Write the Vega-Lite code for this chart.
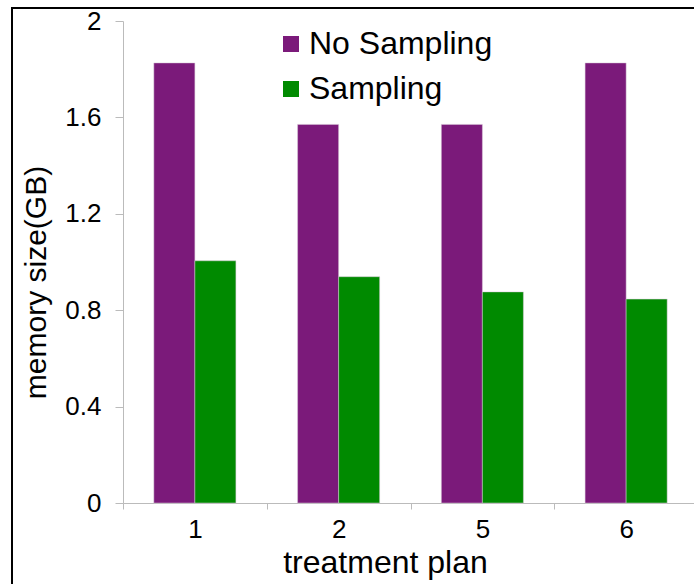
{
  "$schema": "https://vega.github.io/schema/vega-lite/v6.json",
  "autosize": {"type": "none"},
  "padding": {"left": 12, "top": 8, "right": 0, "bottom": 0},
  "width": 700,
  "height": 600,
  "background": "white",
  "config": {
    "font": "Liberation Sans",
    "view": {"stroke": "black", "strokeWidth": 2},
    "axis": {"grid": false, "domainColor": "#bbbbbb", "tickColor": "#bbbbbb", "labelColor": "black", "titleColor": "black", "labelFont": "Liberation Sans", "titleFont": "Liberation Sans", "titleFontWeight": "normal", "labelFontSize": 26}
  },
  "data": {"values": [
    {"plan": "1", "mode": "No Sampling", "size": 1.826},
    {"plan": "1", "mode": "Sampling", "size": 1.005},
    {"plan": "2", "mode": "No Sampling", "size": 1.571},
    {"plan": "2", "mode": "Sampling", "size": 0.939},
    {"plan": "5", "mode": "No Sampling", "size": 1.571},
    {"plan": "5", "mode": "Sampling", "size": 0.876},
    {"plan": "6", "mode": "No Sampling", "size": 1.826},
    {"plan": "6", "mode": "Sampling", "size": 0.846}
  ]},
  "mark": {"type": "bar", "stroke": "#d8c8d8", "strokeWidth": 0.5},
  "encoding": {
    "x": {
      "field": "plan", "type": "nominal", "sort": ["1", "2", "5", "6"],
      "scale": {"range": [111, 686], "paddingInner": 0, "paddingOuter": 0},
      "axis": {"orient": "bottom", "offset": -105, "labelAngle": 0, "labelFontSize": 26, "labelPadding": 7, "tickBand": "extent", "tickSize": 6, "title": "treatment plan", "titleFontSize": 32, "titleX": 373, "titleY": 69, "titleBaseline": "alphabetic", "titleAlign": "center", "titleAnchor": null}
    },
    "xOffset": {"field": "mode", "type": "nominal", "sort": ["No Sampling", "Sampling"], "scale": {"paddingInner": 0, "paddingOuter": 0.752}},
    "y": {
      "field": "size", "type": "quantitative",
      "scale": {"domain": [0, 2], "range": [495, 13], "nice": false, "zero": true},
      "axis": {"orient": "left", "offset": -111, "values": [0, 0.4, 0.8, 1.2, 1.6, 2], "labelExpr": "datum.value == 0 ? '0' : format(datum.value, '.1~f')", "labelFontSize": 26, "labelPadding": 14, "tickSize": 8, "title": "memory size(GB)", "titleFontSize": 30, "titleX": -78, "titleY": 274, "titleAngle": -90, "titleBaseline": "alphabetic", "titleAlign": "center"}
    },
    "color": {
      "field": "mode", "type": "nominal", "sort": ["No Sampling", "Sampling"],
      "scale": {"range": ["#7b1a7a", "#008a00"]},
      "legend": {"orient": "none", "legendX": 263, "legendY": 20, "title": null, "symbolType": "square", "symbolSize": 256, "symbolStrokeWidth": 0, "labelFontSize": 32, "labelLimit": 0, "labelColor": "black", "labelFont": "Liberation Sans", "rowPadding": 13, "labelOffset": 2}
    }
  }
}
